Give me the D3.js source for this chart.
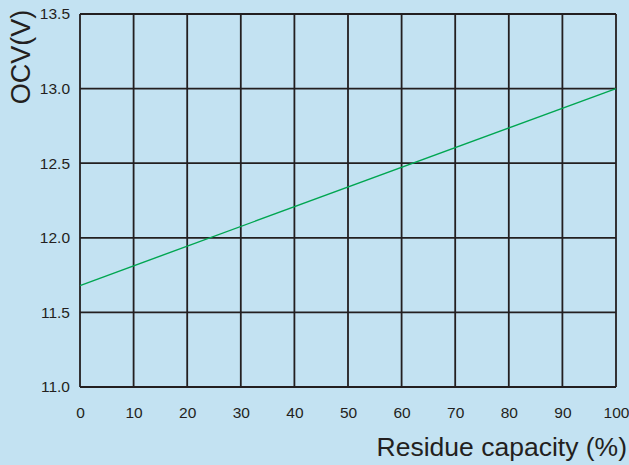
<!DOCTYPE html>
<html>
<head>
<meta charset="utf-8">
<script src="https://cdn.jsdelivr.net/npm/d3@7"></script>
<style>
  body { margin: 0; background: #c3e2f2; }
  svg { display: block; }
  text { font-family: "Liberation Sans", Arial, sans-serif; fill: #231f20; }
</style>
</head>
<body>
<svg id="chart"></svg>
<script>
(function() {

    var capacity = [0, 100];
    var ocv = [11.68, 13.0];
    var xTicks = [0, 10, 20, 30, 40, 50, 60, 70, 80, 90, 100];
    var yTicks = [11.0, 11.5, 12.0, 12.5, 13.0, 13.5];

    var size = { w: 629, h: 465 };
    var plot = { left: 80, right: 616, top: 14, bottom: 387 };

    var svg = d3.select('#chart')
        .attr('width', size.w)
        .attr('height', size.h);

    var x = d3.scaleLinear().domain([0, 100]).range([plot.left, plot.right]);
    var y = d3.scaleLinear().domain([11.0, 13.5]).range([plot.bottom, plot.top]);

    // grid
    svg.append('g')
        .selectAll('line')
        .data(xTicks)
        .enter()
        .append('line')
        .attr('x1', function(d) { return x(d); })
        .attr('x2', function(d) { return x(d); })
        .attr('y1', plot.top)
        .attr('y2', plot.bottom)
        .attr('stroke', '#231f20')
        .attr('stroke-width', 1.8);

    svg.append('g')
        .selectAll('line')
        .data(yTicks)
        .enter()
        .append('line')
        .attr('x1', plot.left)
        .attr('x2', plot.right)
        .attr('y1', function(d) { return y(d); })
        .attr('y2', function(d) { return y(d); })
        .attr('stroke', '#231f20')
        .attr('stroke-width', 1.8);

    // axes labels via d3 axes, domain and ticks hidden
    var xAxis = svg.append('g')
        .attr('transform', 'translate(0,' + plot.bottom + ')')
        .call(d3.axisBottom(x).tickValues(xTicks).tickSize(0).tickPadding(20).tickFormat(d3.format('d')));
    var yAxis = svg.append('g')
        .attr('transform', 'translate(' + plot.left + ',0)')
        .call(d3.axisLeft(y).tickValues(yTicks).tickSize(0).tickPadding(10).tickFormat(d3.format('.1f')));

    [xAxis, yAxis].forEach(function(a) {
        a.select('.domain').remove();
        a.selectAll('text')
            .attr('font-size', 15.5)
            .attr('font-family', '"Liberation Sans", Arial, sans-serif')
            .attr('fill', '#231f20');
    });

    // data line
    var line = d3.line()
        .x(function(d, i) { return x(capacity[i]); })
        .y(function(d) { return y(d); });

    svg.append('path')
        .datum(ocv)
        .attr('d', line)
        .attr('fill', 'none')
        .attr('stroke', '#00a651')
        .attr('stroke-width', 1.4);

    // titles
    svg.append('text')
        .attr('transform', 'translate(30,57) rotate(-90)')
        .attr('text-anchor', 'middle')
        .attr('font-size', 27)
        .text('OCV(V)');

    svg.append('text')
        .attr('x', 627)
        .attr('y', 456)
        .attr('text-anchor', 'end')
        .attr('font-size', 26.5)
        .text('Residue capacity (%)');

})();
</script>
</body>
</html>
